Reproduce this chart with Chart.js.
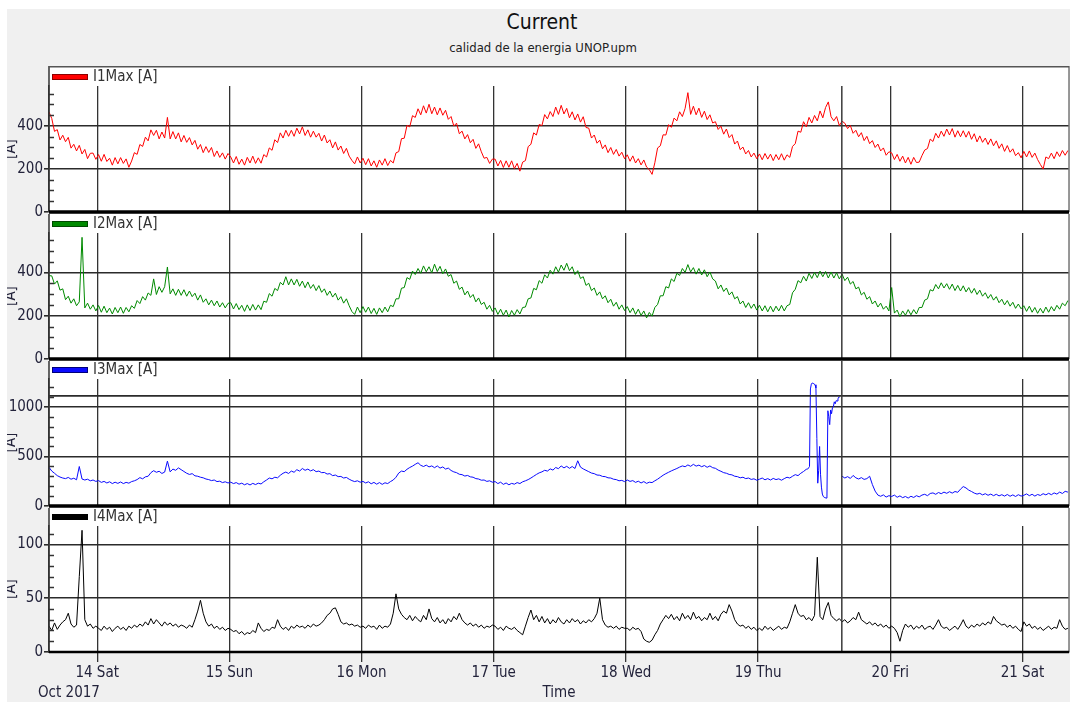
<!DOCTYPE html>
<html lang="es">
<head>
<meta charset="UTF-8">
<title>Current</title>
<script src="https://cdn.jsdelivr.net/npm/chart.js@4.4.1/dist/chart.umd.min.js"></script>
<style>
  body { margin: 0; background: #fff; width: 1070px; height: 702px; overflow: hidden; position: relative;
         font-family: 'Liberation Sans Narrow', 'Arial Narrow', 'DejaVu Sans Condensed', 'Liberation Sans', Arial, sans-serif; }
  #frame { position: absolute; left: 7px; top: 9px; width: 1063px; height: 693px; background: #f0f0f0; }
  #title { position: absolute; left: 442px; top: 8px; width: 200px; text-align: center; font-size: 21px; line-height: 28px; color: #111; }
  #subtitle { position: absolute; left: 393px; top: 40px; width: 300px; text-align: center; font-size: 13px; line-height: 16px; color: #222; }
  #period { position: absolute; left: 38px; top: 683px; font-size: 15px; line-height: 18px; color: #23233b; }
  .panel { position: absolute; left: 7px; }
</style>
</head>
<body>
<div id="frame"></div>
<div id="title">Current</div>
<div id="subtitle">calidad de la energia UNOP.upm</div>
<canvas id="p1" class="panel" width="1063" height="156" style="top:66px"></canvas>
<canvas id="p2" class="panel" width="1063" height="155" style="top:214px"></canvas>
<canvas id="p3" class="panel" width="1063" height="155" style="top:361px"></canvas>
<canvas id="p4" class="panel" width="1063" height="194" style="top:508px"></canvas>
<div id="period">Oct 2017</div>
<script>
// time axis: hours counted from Oct 13 2017 00:00
const t0 = 15.25;          // first sample, Oct 13 15:15
const step = 0.5;          // one sample every 30 min
const xMin = 15.25, xMax = 200.45;
const dayTicks = [24, 48, 72, 96, 120, 144, 168, 192];
const dayLabels = ['14 Sat', '15 Sun', '16 Mon', '17 Tue', '18 Wed', '19 Thu', '20 Fri', '21 Sat'];
const cursorTime = 159.2;  // marker line, Oct 19 15:12

const yTicksI1 = [0, 200, 400];
const yTicksI2 = [0, 200, 400];
const yTicksI3 = [0, 500, 1000];
const yTicksI4 = [0, 50, 100];
const i3Limit = 1110;

// one row per day: Oct 13 (from 15:15) ... Oct 21 (to 08:15)
const i1Max = [
  465, 435, 375, 383, 335, 357, 327, 347, 297, 315, 284, 310, 270, 291, 248, 273, 274, 245,
  267, 236, 268, 235, 250, 218, 253, 224, 253, 226, 247, 208, 237, 276, 268, 314, 305, 348, 331, 382, 356, 380, 340, 372, 344, 440, 340, 374, 340, 368, 326, 356, 324, 346, 312, 333, 292, 314, 276, 304, 277, 300, 258, 284, 254, 275, 246, 272,
  256, 228, 258, 222, 246, 218, 254, 228, 260, 226, 252, 227, 267, 256, 298, 287, 336, 323, 368, 344, 380, 352, 380, 352, 390, 363, 396, 356, 382, 348, 376, 348, 366, 330, 358, 321, 336, 298, 326, 288, 307, 272, 296, 260, 240, 224, 256, 228,
  250, 220, 248, 214, 238, 208, 242, 218, 248, 216, 240, 228, 275, 281, 341, 343, 403, 396, 448, 440, 480, 452, 494, 460, 501, 457, 488, 452, 484, 450, 473, 431, 444, 400, 413, 364, 376, 340, 360, 322, 338, 296, 317, 280, 250, 254, 226, 246,
  246, 214, 240, 207, 238, 208, 238, 202, 226, 190, 232, 239, 304, 315, 368, 358, 407, 402, 453, 433, 467, 444, 488, 454, 496, 456, 482, 438, 466, 428, 456, 418, 443, 393, 390, 344, 358, 320, 334, 294, 312, 276, 300, 268, 291, 260, 278, 248,
  266, 236, 261, 228, 248, 219, 242, 209, 197, 175, 229, 298, 308, 359, 358, 406, 394, 437, 424, 466, 444, 482, 555, 454, 492, 452, 483, 440, 469, 430, 452, 414, 420, 384, 399, 362, 386, 346, 360, 316, 330, 290, 302, 270, 286, 256, 274, 248,
  270, 243, 272, 246, 269, 239, 267, 243, 271, 241, 266, 254, 305, 318, 376, 371, 420, 396, 440, 414, 449, 424, 470, 438, 486, 512, 443, 424, 444, 402, 422, 413, 388, 402, 366, 380, 350, 369, 332, 352, 318, 332, 300, 316, 284, 298, 264, 280,
  275, 244, 268, 236, 260, 228, 254, 222, 254, 230, 232, 262, 288, 295, 339, 328, 366, 344, 376, 352, 386, 358, 388, 348, 378, 350, 378, 348, 375, 338, 364, 326, 354, 324, 344, 314, 340, 308, 331, 296, 317, 282, 309, 278, 294, 262, 276, 252,
  282, 256, 284, 254, 274, 244, 221, 200, 256, 248, 274, 248, 280, 258, 286, 264, 286
];

const i2Max = [
  385, 384, 346, 361, 318, 324, 274, 290, 258, 278, 246, 264, 562, 236, 258, 230, 250, 222,
  247, 216, 244, 214, 235, 208, 238, 214, 240, 211, 238, 218, 246, 234, 270, 256, 288, 272, 305, 294, 370, 298, 334, 308, 334, 425, 301, 324, 294, 322, 294, 320, 290, 314, 288, 304, 272, 296, 262, 278, 250, 272, 246, 268, 240, 260, 236, 257,
  260, 231, 256, 228, 248, 220, 250, 224, 252, 226, 250, 228, 267, 262, 302, 290, 326, 316, 354, 342, 380, 342, 370, 342, 368, 336, 360, 329, 356, 326, 344, 316, 339, 308, 324, 294, 314, 286, 304, 272, 288, 258, 278, 246, 219, 206, 240, 214,
  242, 216, 240, 210, 234, 206, 236, 214, 240, 218, 248, 242, 278, 278, 327, 330, 376, 368, 406, 390, 418, 396, 430, 403, 426, 398, 438, 404, 428, 394, 416, 382, 390, 350, 360, 322, 332, 296, 314, 284, 298, 264, 282, 252, 262, 230, 248, 220,
  236, 206, 230, 202, 226, 194, 224, 202, 228, 208, 238, 240, 278, 282, 326, 320, 362, 350, 389, 374, 410, 392, 426, 401, 434, 410, 442, 408, 426, 390, 408, 372, 380, 340, 350, 316, 328, 294, 310, 278, 292, 260, 276, 244, 262, 230, 250, 224,
  242, 214, 236, 206, 230, 201, 222, 190, 215, 198, 238, 252, 292, 292, 334, 328, 370, 358, 396, 386, 418, 400, 436, 402, 422, 392, 418, 388, 412, 380, 402, 370, 360, 324, 342, 312, 328, 296, 310, 278, 288, 254, 268, 238, 260, 234, 254, 226,
  248, 222, 246, 218, 244, 218, 244, 222, 248, 222, 246, 252, 306, 322, 362, 352, 382, 360, 396, 372, 400, 376, 406, 380, 404, 374, 402, 374, 398, 370, 392, 362, 378, 346, 358, 324, 332, 296, 308, 276, 288, 254, 268, 240, 258, 230, 244, 222,
  330, 212, 226, 196, 222, 202, 228, 204, 228, 208, 238, 238, 272, 278, 320, 314, 344, 324, 352, 328, 348, 322, 346, 316, 340, 314, 338, 310, 330, 304, 326, 298, 318, 290, 306, 280, 298, 272, 288, 260, 276, 250, 270, 244, 262, 234, 254, 232,
  246, 220, 244, 216, 238, 211, 234, 212, 240, 216, 242, 222, 248, 230, 258, 246, 270
];

// null entries on Oct 19 morning are covered by the 10-minute samples below
const i3Max = [
  390, 352, 330, 306, 292, 282, 276, 288, 270, 280, 264, 398, 272, 262, 270, 254, 262, 248,
  256, 238, 248, 232, 244, 226, 240, 228, 242, 226, 238, 230, 246, 254, 266, 286, 274, 294, 300, 336, 356, 340, 350, 328, 342, 452, 344, 372, 360, 384, 366, 348, 330, 318, 326, 304, 300, 290, 284, 272, 266, 256, 262, 246, 250, 236, 244, 232,
  240, 226, 236, 220, 230, 214, 226, 212, 228, 216, 230, 222, 244, 262, 282, 274, 290, 284, 310, 330, 342, 328, 352, 340, 366, 352, 378, 360, 372, 354, 366, 346, 352, 336, 338, 322, 326, 306, 312, 296, 298, 282, 288, 270, 256, 246, 254, 240,
  248, 232, 244, 224, 238, 220, 236, 218, 234, 226, 246, 262, 290, 332, 352, 346, 370, 388, 402, 420, 436, 410, 398, 412, 394, 404, 386, 404, 382, 394, 372, 382, 358, 344, 336, 320, 316, 302, 308, 294, 290, 276, 272, 260, 262, 248, 254, 240,
  246, 226, 240, 218, 232, 214, 228, 220, 236, 226, 244, 254, 266, 282, 300, 318, 334, 344, 360, 352, 374, 362, 388, 376, 404, 384, 400, 380, 398, 378, 456, 392, 374, 360, 346, 332, 326, 312, 310, 298, 296, 284, 282, 270, 266, 254, 258, 246,
  262, 248, 256, 238, 250, 232, 246, 228, 240, 236, 254, 270, 290, 310, 326, 340, 354, 366, 378, 392, 404, 396, 414, 400, 420, 402, 412, 396, 408, 390, 404, 386, 380, 362, 350, 336, 330, 318, 314, 300, 296, 284, 290, 276, 282, 268, 274, 260,
  270, 282, 264, 276, 262, 278, 266, 274, 260, 276, 290, 282, 300, 316, 306, 330, 348, 370, null, null, null, null, null, null, null, null, null, null, null, null, 300, 282, 296, 278, 308, 284, 272, 286, 268, 276, 300, 216, 150, 110, 98, 112, 90, 104,
  96, 110, 88, 102, 84, 96, 80, 98, 86, 104, 92, 110, 118, 104, 126, 132, 118, 136, 124, 140, 128, 144, 130, 146, 138, 170, 196, 182, 160, 146, 130, 120, 128, 112, 124, 108, 120, 104, 118, 102, 114, 100, 116, 98, 112, 96, 114, 100,
  108, 122, 104, 118, 100, 116, 106, 124, 112, 128, 114, 132, 120, 140, 126, 148, 140
];

// Oct 19 09:00 - 15:00, one sample every 10 min
const i3SurgeStart = 153.0;
const i3SurgeStep = 1 / 6;
const i3Surge = [
  372, 384, 398, 1180, 1228, 1240, 1236, 1230, 1222, 1190, 680, 230, 360, 600, 320, 190, 120, 96, 88, 84,
  80, 90, 960, 900, 820, 968, 930, 990, 1000, 1050, 1030, 1062, 1058, 1080, 1098, 1100, null
];

const i4Max = [
  24, 20, 27, 21, 25, 28, 30, 36, 26, 23, 25, 70, 113, 30, 24, 26, 22, 24,
  22, 20, 24, 21, 23, 19, 22, 24, 21, 23, 20, 24, 22, 25, 23, 26, 24, 28, 25, 31, 26, 30, 27, 24, 28, 25, 27, 24, 26, 23, 25, 24, 22, 25, 23, 30, 38, 48, 36, 28, 24, 26, 22, 24, 21, 23, 20, 22,
  21, 19, 20, 17, 19, 16, 18, 17, 20, 18, 27, 22, 19, 21, 20, 23, 22, 30, 24, 21, 23, 20, 24, 22, 25, 23, 24, 22, 25, 23, 26, 24, 25, 27, 30, 34, 36, 40, 41, 35, 28, 26, 27, 25, 26, 24, 25, 23,
  24, 22, 25, 23, 24, 21, 25, 22, 24, 23, 26, 36, 54, 40, 35, 32, 30, 34, 29, 33, 30, 28, 34, 30, 40, 31, 28, 32, 27, 30, 26, 31, 28, 33, 30, 36, 30, 27, 25, 27, 24, 26, 23, 25, 22, 24, 23, 25,
  24, 21, 23, 20, 24, 22, 21, 23, 20, 18, 16, 24, 32, 39, 30, 34, 28, 33, 27, 31, 26, 30, 27, 32, 28, 26, 30, 27, 31, 28, 30, 26, 29, 27, 30, 28, 31, 36, 50, 30, 25, 23, 24, 22, 24, 21, 23, 22,
  22, 20, 23, 21, 22, 19, 12, 10, 9, 11, 16, 20, 26, 30, 34, 31, 35, 30, 33, 29, 36, 31, 34, 30, 37, 31, 33, 29, 32, 30, 36, 30, 33, 29, 35, 38, 36, 44, 38, 30, 26, 24, 25, 22, 24, 21, 23, 20,
  22, 20, 24, 21, 23, 20, 22, 24, 21, 23, 22, 28, 36, 44, 36, 33, 34, 30, 32, 29, 34, 88, 33, 30, 40, 46, 34, 31, 29, 31, 28, 30, 27, 29, 32, 30, 37, 30, 28, 26, 28, 25, 27, 24, 26, 23, 25, 22,
  24, 22, 18, 10, 20, 26, 23, 25, 21, 24, 22, 25, 21, 23, 24, 21, 25, 30, 24, 22, 23, 20, 22, 24, 21, 25, 30, 24, 22, 25, 23, 26, 24, 27, 25, 28, 26, 33, 29, 27, 25, 26, 23, 25, 22, 24, 21, 19,
  28, 24, 26, 22, 24, 21, 23, 20, 22, 24, 21, 23, 22, 30, 24, 21, 22
];

const FONT = "'Liberation Sans Narrow', 'Arial Narrow', 'DejaVu Sans Condensed', 'Liberation Sans', Arial, sans-serif";
const INK = '#23233b';
Chart.defaults.font.family = FONT;

function series(values, start, dt) {
  return values.map((v, i) => ({ x: start + i * dt, y: v }));
}

// stitch the fine samples into the half-hourly I3 record
const i3Main = series(i3Max, t0, step);
const i3Fine = series(i3Surge, i3SurgeStart, i3SurgeStep);
const i3End = i3SurgeStart + (i3Surge.length - 1) * i3SurgeStep;
const i3Points = [
  ...i3Main.filter(p => p.x < i3SurgeStart),
  ...i3Fine,
  ...i3Main.filter(p => p.x > i3End)
];

const panels = [
  { id: 'p1', label: 'I1Max [A]', color: '#ff0000', edge: '#8c0000', data: series(i1Max, t0, step), max: 586, ticks: yTicksI1, major: 200, minor: 50, padTop: 20 },
  { id: 'p2', label: 'I2Max [A]', color: '#008a00', edge: '#004a00', data: series(i2Max, t0, step), max: 582, ticks: yTicksI2, major: 200, minor: 50, padTop: 19 },
  { id: 'p3', label: 'I3Max [A]', color: '#0a0aff', edge: '#00007a', data: i3Points, max: 1280, ticks: yTicksI3, major: 500, minor: 100, padTop: 18, limit: i3Limit },
  { id: 'p4', label: 'I4Max [A]', color: '#000000', edge: '#000000', data: series(i4Max, t0, step), max: 117, ticks: yTicksI4, major: 50, minor: 10, padTop: 18 }
];

// white plot field, minor ticks, frame, zero rule, marker line and the legend swatch
const panelDeco = {
  id: 'panelDeco',
  beforeDraw(chart) {
    const { ctx, chartArea: a } = chart;
    ctx.save();
    ctx.fillStyle = '#ffffff';
    ctx.fillRect(a.left, 0, a.right - a.left, a.bottom);
    ctx.restore();
  },
  afterDatasetsDraw(chart, args, o) {
    const { ctx, chartArea: a, scales: { x, y } } = chart;
    const seg = (x1, y1, x2, y2, color, w) => {
      ctx.beginPath();
      ctx.strokeStyle = color;
      ctx.lineWidth = w;
      ctx.moveTo(x1, y1);
      ctx.lineTo(x2, y2);
      ctx.stroke();
    };
    ctx.save();
    for (let v = o.minor; v < y.max; v += o.minor) {
      if (v % o.major === 0) continue;
      const py = Math.round(y.getPixelForValue(v)) + 0.5;
      seg(a.left, py, a.left + 5, py, '#333', 1.5);
    }
    if (o.limit) {
      const py = y.getPixelForValue(o.limit);
      seg(a.left, py, a.right, py, '#2b2b2b', 1.6);
    }
    const cx = x.getPixelForValue(cursorTime);
    seg(cx, o.first ? a.top : 0, cx, a.bottom, '#3a3a3a', 1.5);

    seg(a.left, 0, a.left, a.bottom, '#333', 1.5);
    seg(a.right, 0, a.right, a.bottom, '#777', 1.5);
    if (o.first) seg(a.left, 0.75, a.right, 0.75, '#555', 1.5);

    const zy = y.getPixelForValue(0);
    seg(a.left, zy, a.right, zy, '#000', o.last ? 2.5 : 3.5);

    const ly = a.top - 9;
    ctx.fillStyle = o.color;
    ctx.fillRect(a.left + 3, ly - 2.5, 36, 5);
    ctx.strokeStyle = o.edge;
    ctx.lineWidth = 1;
    ctx.strokeRect(a.left + 3.5, ly - 2.5, 35, 5);
    ctx.fillStyle = '#333';
    ctx.font = '15px ' + FONT;
    ctx.textBaseline = 'middle';
    ctx.textAlign = 'left';
    ctx.fillText(o.label, a.left + 44, ly);
    ctx.restore();
  }
};

panels.forEach((p, idx) => {
  const first = idx === 0;
  const last = idx === panels.length - 1;
  new Chart(document.getElementById(p.id), {
    type: 'line',
    data: {
      datasets: [{
        label: p.label,
        data: p.data,
        borderColor: p.color,
        borderWidth: 1,
        pointRadius: 0,
        tension: 0,
        spanGaps: false
      }]
    },
    options: {
      responsive: false,
      animation: false,
      events: [],
      // extra room below the upper panels so the "0" label is not cut
      layout: { padding: { top: p.padTop, bottom: last ? 0 : 10, left: 0, right: 1 } },
      plugins: {
        legend: { display: false },
        tooltip: { enabled: false },
        panelDeco: { first, last, label: p.label, color: p.color, edge: p.edge, major: p.major, minor: p.minor, limit: p.limit }
      },
      scales: {
        x: {
          type: 'linear',
          min: xMin,
          max: xMax,
          afterBuildTicks: s => { s.ticks = dayTicks.map(v => ({ value: v })); },
          afterFit: s => { s.height = last ? 50 : 0; s.paddingLeft = 0; s.paddingRight = 0; },
          ticks: {
            display: last,
            autoSkip: false,
            maxRotation: 0,
            color: INK,
            font: { family: FONT, size: 15 },
            padding: 2,
            callback: (v, i) => dayLabels[i]
          },
          grid: { color: '#333', lineWidth: 1.3, drawTicks: last, tickLength: 10 },
          border: { display: last, color: '#444', width: 2 },
          title: { display: last, text: 'Time', color: INK, font: { family: FONT, size: 15 }, padding: { top: 0, bottom: 0 } }
        },
        y: {
          min: 0,
          max: p.max,
          afterBuildTicks: s => { s.ticks = p.ticks.map(v => ({ value: v })); },
          afterFit: s => { s.width = 42; s.paddingTop = 0; s.paddingBottom = 0; },
          ticks: { color: INK, font: { family: FONT, size: 15 }, padding: 1, callback: v => String(v) },
          grid: { color: '#2b2b2b', lineWidth: 1.6, tickLength: 5 },
          border: { color: '#333', width: 1.5 },
          title: { display: true, text: '[A]', color: INK, font: { family: FONT, size: 15 }, padding: { top: -5, bottom: 0 } }
        }
      }
    },
    plugins: [panelDeco]
  });
});
</script>
</body>
</html>
